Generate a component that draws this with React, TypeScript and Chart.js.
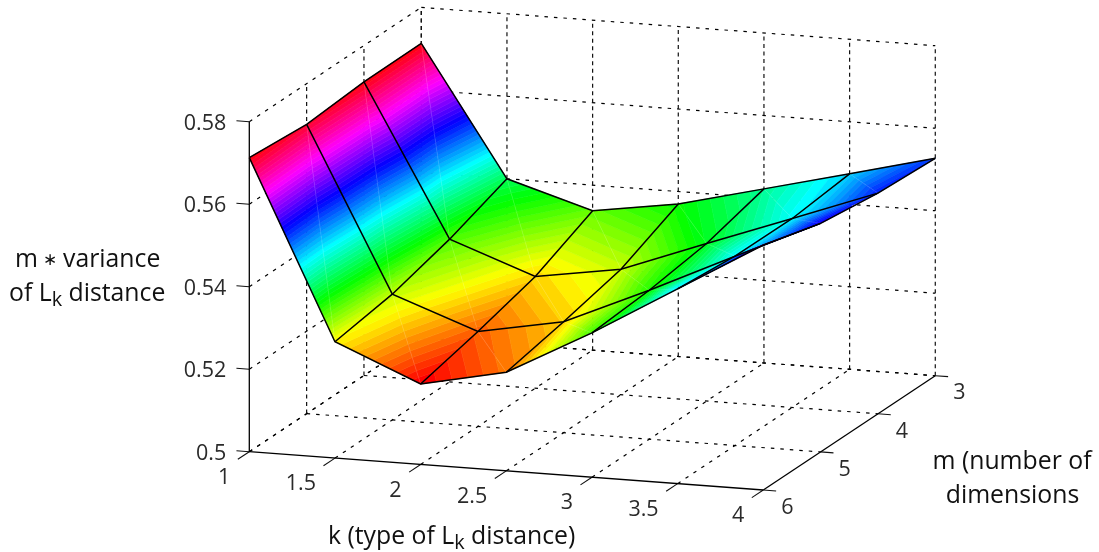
import React, { useEffect, useRef } from "react";
import { Chart, registerables } from "chart.js";

Chart.register(...registerables);

const W = 1099;
const H = 552;

const kValues = [1, 1.5, 2, 2.5, 3, 3.5, 4];
const mValues = [3, 4, 5, 6];
const zTicks = [0.5, 0.52, 0.54, 0.56, 0.58];
const kTickLabels = ["1", "1.5", "2", "2.5", "3", "3.5", "4"];
const mTickLabels = ["3", "4", "5", "6"];
const zTickLabels = ["0.5", "0.52", "0.54", "0.56", "0.58"];

const varianceM3 = [0.5713, 0.54, 0.5338, 0.537, 0.5422, 0.5474, 0.5527];
const varianceM4 = [0.5712, 0.5346, 0.5271, 0.5304, 0.5382, 0.5458, 0.5535];
const varianceM5 = [0.5701, 0.5305, 0.523, 0.5269, 0.5361, 0.5459, 0.5554];
const varianceM6 = [0.5713, 0.5282, 0.5195, 0.5239, 0.535, 0.5472, 0.5594];
const surface = [varianceM3, varianceM4, varianceM5, varianceM6];

// Orthographic view of the 3D box
const ORIGIN = { x: 249.3, y: 451.7 };
const K_STEP = { x: 171.33, y: 12.77 };
const M_STEP = { x: -57.33, y: 38.1 };
const Z_STEP = -4125;

type P = { x: number; y: number };
function project(k: number, m: number, z: number): P {
  return {
    x: ORIGIN.x + K_STEP.x * (k - 1) + M_STEP.x * (m - 6),
    y: ORIGIN.y + K_STEP.y * (k - 1) + M_STEP.y * (m - 6) + Z_STEP * (z - 0.5),
  };
}
const depth = (k: number, m: number, z: number) =>
  236486 * (k - 1) - 706736 * (6 - m) + 7260 * z;

function line(points: P[], extra: any) {
  return {
    data: points,
    showLine: true,
    pointRadius: 0,
    pointHoverRadius: 0,
    tension: 0,
    clip: false,
    borderColor: "#000",
    borderWidth: 1,
    ...extra,
  };
}

function buildDatasets() {
  const sets: any[] = [];
  // wires (on top)
  const wire = { borderWidth: 1.5, isWire: true, order: 0 };
  surface.forEach((row, i) => {
    sets.push(line(row.map((z, j) => project(kValues[j], mValues[i], z)), wire));
  });
  kValues.forEach((k, j) => {
    sets.push(line(surface.map((row, i) => project(k, mValues[i], row[j])), wire));
  });

  // axes and ticks
  const axis = { borderWidth: 1.3, order: 1, borderColor: "#000" };
  const tick = { borderWidth: 1.1, order: 1, borderColor: "#111" };
  sets.push(line([project(1, 6, 0.5), project(1, 6, 0.58)], axis));
  sets.push(line([project(1, 6, 0.5), project(4, 6, 0.5)], axis));
  sets.push(line([project(4, 6, 0.5), project(4, 3, 0.5)], axis));
  zTicks.forEach((z) => sets.push(line([project(1, 6, z), project(0.925, 6, z)], tick)));
  kValues.forEach((k) => sets.push(line([project(k, 6, 0.5), project(k, 6.2, 0.5)], tick)));
  mValues.forEach((m) => sets.push(line([project(4, m, 0.5), project(4.075, m, 0.5)], tick)));

  // dotted box grid
  const flat = { borderDash: [3.5, 6], order: 2, borderColor: "#000", borderWidth: 1.2 };
  const vert = { borderDash: [4, 3.5], order: 2, borderColor: "#111", borderWidth: 1.2 };
  kValues.forEach((k) => {
    if (k < 4) sets.push(line([project(k, 6, 0.5), project(k, 3, 0.5)], flat));
    sets.push(line([project(k, 3, 0.5), project(k, 3, 0.58)], vert));
  });
  mValues.forEach((m) => {
    if (m < 6) {
      sets.push(line([project(1, m, 0.5), project(4, m, 0.5)], flat));
      sets.push(line([project(1, m, 0.5), project(1, m, 0.58)], vert));
    }
  });
  zTicks.forEach((z) => {
    sets.push(line([project(1, 3, z), project(4, 3, z)], flat));
    sets.push(line([project(1, 6, z), project(1, 3, z)], flat));
  });
  return sets;
}

function hsv(h: number) {
  const i = Math.floor(h * 6) % 6;
  const f = h * 6 - Math.floor(h * 6);
  const q = Math.round(255 * (1 - f));
  const t = Math.round(255 * f);
  const c = [
    [255, t, 0],
    [q, 255, 0],
    [0, 255, t],
    [0, q, 255],
    [t, 0, 255],
    [255, 0, q],
  ][i];
  return `rgb(${c[0]},${c[1]},${c[2]})`;
}

type V = { x: number; y: number; z: number };

function clip(poly: V[], limit: number, keepAbove: boolean): V[] {
  const out: V[] = [];
  const inside = (v: V) => (keepAbove ? v.z >= limit : v.z <= limit);
  for (let i = 0; i < poly.length; i++) {
    const a = poly[i];
    const b = poly[(i + 1) % poly.length];
    if (inside(a)) out.push(a);
    if (inside(a) !== inside(b)) {
      const t = (limit - a.z) / (b.z - a.z);
      out.push({ x: a.x + (b.x - a.x) * t, y: a.y + (b.y - a.y) * t, z: limit });
    }
  }
  return out;
}

function drawSurface(chart: any) {
  const { ctx, scales } = chart;
  const toPx = (k: number, m: number, z: number): V => {
    const p = project(k, m, z);
    return { x: scales.x.getPixelForValue(p.x), y: scales.y.getPixelForValue(p.y), z };
  };
  const all = surface.flat();
  const zMin = Math.min(...all);
  const zMax = Math.max(...all);
  const LEVELS = 64;
  const dz = (zMax - zMin) / LEVELS;

  const tris: { d: number; v: V[] }[] = [];
  const diagonals: [V, V][] = [];
  for (let i = 0; i < mValues.length - 1; i++) {
    for (let j = 0; j < kValues.length - 1; j++) {
      const g = (a: number, b: number) => toPx(kValues[b], mValues[a], surface[a][b]);
      const dp = (a: number, b: number) => depth(kValues[b], mValues[a], surface[a][b]);
      tris.push({
        d: (dp(i, j) + dp(i + 1, j + 1) + dp(i, j + 1)) / 3,
        v: [g(i, j), g(i + 1, j + 1), g(i, j + 1)],
      });
      tris.push({
        d: (dp(i, j) + dp(i + 1, j + 1) + dp(i + 1, j)) / 3,
        v: [g(i, j), g(i + 1, j + 1), g(i + 1, j)],
      });
      diagonals.push([g(i, j), g(i + 1, j + 1)]);
    }
  }
  tris.sort((a, b) => a.d - b.d);

  ctx.save();
  ctx.lineJoin = "round";
  for (const tri of tris) {
    for (let l = 0; l < LEVELS; l++) {
      const lo = zMin + l * dz;
      const hi = l === LEVELS - 1 ? zMax + 1 : lo + dz;
      let poly = clip(tri.v, lo, true);
      if (poly.length > 2) poly = clip(poly, hi, false);
      if (poly.length < 3) continue;
      const color = hsv(l / LEVELS);
      ctx.beginPath();
      poly.forEach((p, n) => (n ? ctx.lineTo(p.x, p.y) : ctx.moveTo(p.x, p.y)));
      ctx.closePath();
      ctx.fillStyle = color;
      ctx.strokeStyle = color;
      ctx.lineWidth = 0.6;
      ctx.fill();
      ctx.stroke();
    }
  }
  ctx.strokeStyle = "rgba(255,255,255,0.2)";
  ctx.lineWidth = 0.7;
  for (const [a, b] of diagonals) {
    ctx.beginPath();
    ctx.moveTo(a.x, a.y);
    ctx.lineTo(b.x, b.y);
    ctx.stroke();
  }
  ctx.restore();
}

const FONT = '"Open Sans", sans-serif';

function richText(ctx: any, runs: [string, boolean][], x: number, y: number, size: number) {
  let cx = x;
  for (const [text, sub] of runs) {
    ctx.font = `${sub ? size * 0.8 : size}px ${FONT}`;
    ctx.fillText(text, cx, sub ? y + size * 0.26 : y);
    cx += ctx.measureText(text).width;
  }
}

function drawText(chart: any) {
  const { ctx, scales } = chart;
  const toPx = (k: number, m: number, z: number) => {
    const p = project(k, m, z);
    return { x: scales.x.getPixelForValue(p.x), y: scales.y.getPixelForValue(p.y) };
  };
  ctx.save();
  ctx.fillStyle = "#2a2a2a";
  ctx.textBaseline = "middle";
  ctx.font = `21.5px ${FONT}`;
  ctx.textAlign = "right";
  zTicks.forEach((z, i) => {
    const p = toPx(1, 6, z);
    ctx.fillText(zTickLabels[i], p.x - 23, p.y + 2);
  });
  kValues.forEach((k, i) => {
    const p = toPx(k, 6, 0.5);
    ctx.fillText(kTickLabels[i], p.x - 19, p.y + 26);
  });
  ctx.textAlign = "center";
  mValues.forEach((m, i) => {
    const p = toPx(4, m, 0.5);
    ctx.fillText(mTickLabels[i], p.x + 24, p.y + 17.6);
  });

  ctx.fillStyle = "#111";
  const TITLE = 24.8;
  ctx.font = `${TITLE}px ${FONT}`;
  ctx.textAlign = "center";
  ctx.fillText("m (number of", 1012, 461.5);
  ctx.fillText("dimensions", 1012.5, 495.5);
  ctx.textAlign = "left";
  ctx.fillText("m", 15, 259.5);
  ctx.fillText("variance", 63, 259.5);
  ctx.font = `17px ${FONT}`;
  ctx.fillText("\u2217", 43, 260.5);
  richText(ctx, [["of L", false], ["k", true], [" distance", false]], 9, 293.5, TITLE);
  richText(ctx, [["k (type of L", false], ["k", true], [" distance)", false]], 328, 536.5, TITLE);
  ctx.restore();
}

const plugin = {
  id: "surface3d",
  beforeDraw(chart: any) {
    chart.$surfaceDrawn = false;
    const { ctx } = chart;
    ctx.save();
    ctx.fillStyle = "#fff";
    ctx.fillRect(0, 0, chart.width, chart.height);
    ctx.restore();
  },
  beforeDatasetDraw(chart: any, args: any) {
    if (!chart.$surfaceDrawn && chart.data.datasets[args.index].isWire) {
      chart.$surfaceDrawn = true;
      drawSurface(chart);
    }
  },
  afterDraw(chart: any) {
    drawText(chart);
  },
};

export default function App() {
  const ref = useRef<HTMLCanvasElement | null>(null);
  useEffect(() => {
    const chart = new Chart(ref.current as HTMLCanvasElement, {
      type: "scatter",
      data: { datasets: buildDatasets() },
      options: {
        animation: false,
        responsive: false,
        devicePixelRatio: 1,
        events: [],
        layout: { padding: 0 },
        plugins: { legend: { display: false }, tooltip: { enabled: false }, title: { display: false } },
        scales: {
          x: { type: "linear", min: 0, max: W, display: false },
          y: { type: "linear", min: 0, max: H, reverse: true, display: false },
        },
      },
      plugins: [plugin],
    } as any);
    return () => chart.destroy();
  }, []);
  return (
    <div style={{ position: "absolute", left: 0, top: 0, width: W, height: H }}>
      <canvas ref={ref} width={W} height={H} style={{ display: "block" }} />
    </div>
  );
}
